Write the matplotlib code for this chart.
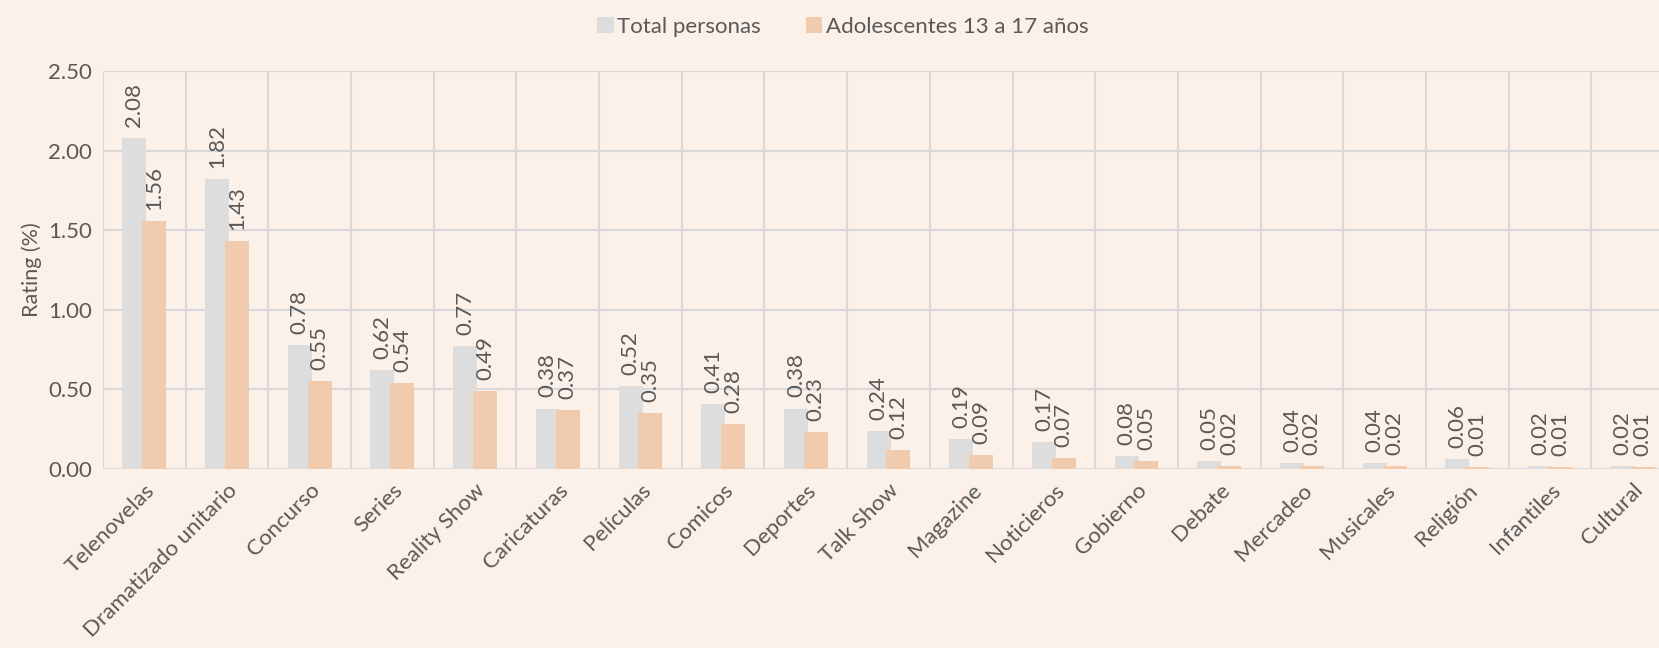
import numpy as np
import matplotlib.pyplot as plt

categories = ['Telenovelas', 'Dramatizado unitario', 'Concurso', 'Series', 'Reality Show',
              'Caricaturas', 'Películas', 'Comicos', 'Deportes', 'Talk Show', 'Magazine',
              'Noticieros', 'Gobierno', 'Debate', 'Mercadeo', 'Musicales', 'Religión',
              'Infantiles', 'Cultural']
total = [2.08, 1.82, 0.78, 0.62, 0.77, 0.38, 0.52, 0.41, 0.38, 0.24, 0.19,
         0.17, 0.08, 0.05, 0.04, 0.04, 0.06, 0.02, 0.02]
adolescentes = [1.56, 1.43, 0.55, 0.54, 0.49, 0.37, 0.35, 0.28, 0.23, 0.12, 0.09,
                0.07, 0.05, 0.02, 0.02, 0.02, 0.01, 0.01, 0.01]
series_names = ['Total personas', 'Adolescentes 13 a 17 años']

BG = '#FCF1E9'
GRAY = '#DDDDDD'
ORANGE = '#F0CBAE'
TXT = '#595959'
GRID = '#D9D9D9'

plt.rcParams['font.family'] = ['Lato', 'DejaVu Sans']

fig = plt.figure(figsize=(16.59, 6.48), dpi=100, facecolor=BG)
ax = fig.add_axes([103 / 1659, 1 - 469 / 648, (1674 - 103) / 1659, (469 - 71) / 648])
ax.set_facecolor(BG)

xs = np.arange(len(categories))
w = 0.29
b1 = ax.bar(xs - 0.12, total, w, color=GRAY, label=series_names[0], zorder=2)
b2 = ax.bar(xs + 0.12, adolescentes, w, color=ORANGE, label=series_names[1], zorder=3)

for bars, vals in ((b1, total), (b2, adolescentes)):
    for r, v in zip(bars, vals):
        ax.annotate(f'{v:.2f}', (r.get_x() + r.get_width() / 2, v),
                    xytext=(0, 8), textcoords='offset points', rotation=90,
                    ha='center', va='bottom', fontsize=16, color=TXT, zorder=4)

ax.set_xlim(-0.5, len(categories) - 0.5)
ax.set_ylim(0, 2.5)
ax.set_yticks(np.arange(0, 2.51, 0.5))
ax.set_yticklabels([f'{t:.2f}' for t in np.arange(0, 2.51, 0.5)])
ax.set_xticks(xs)
ax.set_xticklabels(categories, rotation=45, ha='right', rotation_mode='anchor')
ax.set_xticks(np.arange(-0.5, len(categories), 1), minor=True)
ax.tick_params(axis='both', which='both', length=0, labelsize=16, colors=TXT)
ax.tick_params(axis='x', pad=8)
ax.tick_params(axis='y', pad=8)
ax.grid(axis='y', color=GRID, lw=1.5, zorder=0)
ax.grid(axis='x', which='minor', color=GRID, lw=1.5, zorder=0)
for s in ax.spines.values():
    s.set_visible(False)
ax.set_ylabel('Rating (%)', fontsize=15.5, color=TXT, labelpad=4)

fig.legend(loc='upper center', bbox_to_anchor=(0.508, 1.005), ncol=2, frameon=False,
           fontsize=16, labelcolor=TXT, handlelength=0.75, handleheight=0.75,
           handletextpad=0.15, columnspacing=2.0)

fig.savefig('out.png', dpi=100, facecolor=BG)
